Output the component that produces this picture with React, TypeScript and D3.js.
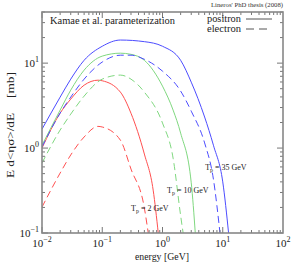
import React, { useEffect, useRef } from "react";
import * as d3 from "d3";

// values (energy in GeV, E d<ησ>/dE in mb)
const eBluePos = [0.01, 0.02, 0.03, 0.05, 0.1, 0.2, 0.5, 1, 2, 3, 5, 7, 10, 12.5];
const vBluePos = [1.67, 3.98, 6.48, 10.8, 15.8, 18.7, 17.9, 15.8, 10.8, 5.97, 2.32, 1.08, 0.4, 0.1];

const eBlueEle = [0.01, 0.02, 0.03, 0.05, 0.1, 0.2, 0.3, 0.5, 1, 2, 3, 5, 7, 9];
const vBlueEle = [1.03, 2.58, 3.98, 6.48, 10.3, 12.4, 12.4, 11.1, 8.05, 4.69, 2.72, 1.15, 0.43, 0.1];

const eGreenPos = [0.01, 0.02, 0.03, 0.05, 0.1, 0.2, 0.3, 0.5, 1, 1.5, 2, 3, 3.5];
const vGreenPos = [1.08, 2.8, 4.81, 8.27, 12.1, 13.1, 12.7, 10.8, 5.36, 2.8, 1.5, 0.39, 0.1];

const eGreenEle = [0.01, 0.02, 0.03, 0.05, 0.1, 0.2, 0.3, 0.5, 1, 1.5, 2, 2.2];
const vGreenEle = [0.667, 1.63, 2.51, 4.09, 6.48, 7.23, 6.48, 4.56, 1.97, 0.76, 0.16, 0.1];

const eRedPos = [0.01, 0.02, 0.03, 0.05, 0.085, 0.1, 0.2, 0.3, 0.5, 0.7, 0.85];
const vRedPos = [1.0, 2.58, 3.77, 5.5, 6.3, 6.2, 4.56, 2.57, 0.85, 0.32, 0.1];

const eRedEle = [0.01, 0.02, 0.03, 0.05, 0.085, 0.1, 0.2, 0.3, 0.5, 0.58];
const vRedEle = [0.202, 0.508, 0.83, 1.35, 1.8, 1.77, 1.24, 0.566, 0.197, 0.1];

const xTickExps = [-2, -1, 0, 1, 2];
const yTickExps = [-1, 0, 1];

const annotations = [
  { label: "35 GeV", e: 5.1, v: 0.55 },
  { label: "10 GeV", e: 1.19, v: 0.295 },
  { label: "2 GeV", e: 0.3, v: 0.18 },
];

const FONT = "'Liberation Serif', 'DejaVu Serif', serif";

export default function App() {
  const ref = useRef<SVGSVGElement>(null);

  useEffect(() => {
    const svg = d3.select(ref.current);
    svg.selectAll("*").remove();

    const width = 299, height = 262;
    const margin = { top: 12, right: 16, bottom: 29, left: 42 };
    const innerW = width - margin.left - margin.right;
    const innerH = height - margin.top - margin.bottom;

    const x = d3.scaleLog().domain([0.01, 100]).range([0, innerW]);
    const y = d3.scaleLog().domain([0.1, 40]).range([innerH, 0]);

    const g = svg.append("g").attr("transform", `translate(${margin.left},${margin.top})`);

    g.append("clipPath").attr("id", "plotclip")
      .append("rect").attr("width", innerW).attr("height", innerH);

    const line = d3.line<[number, number]>()
      .x(d => x(d[0]))
      .y(d => y(d[1]))
      .curve(d3.curveMonotoneX);

    const series = [
      { e: eRedEle, v: vRedEle, color: "#ff5050", dash: true },
      { e: eRedPos, v: vRedPos, color: "#ff5050", dash: false },
      { e: eGreenEle, v: vGreenEle, color: "#7fd87f", dash: true },
      { e: eGreenPos, v: vGreenPos, color: "#7fd87f", dash: false },
      { e: eBlueEle, v: vBlueEle, color: "#4c4cff", dash: true },
      { e: eBluePos, v: vBluePos, color: "#4c4cff", dash: false },
    ];

    const curves = g.append("g").attr("clip-path", "url(#plotclip)");
    series.forEach(s => {
      const pts = s.e.map((e, i) => [e, s.v[i]] as [number, number]);
      curves.append("path")
        .attr("d", line(pts))
        .attr("fill", "none")
        .attr("stroke", s.color)
        .attr("stroke-width", 1)
        .attr("stroke-dasharray", s.dash ? "7,4" : null);
    });

    // ticks (inside, mirrored)
    const ticks = g.append("g").attr("stroke", "#777").attr("stroke-width", 1);
    for (let p = -2; p < 2; p++) {
      for (let m = 1; m < 10; m++) {
        const xv = x(m * Math.pow(10, p));
        const len = m === 1 ? 6 : 3;
        ticks.append("line").attr("x1", xv).attr("x2", xv).attr("y1", innerH).attr("y2", innerH - len);
        ticks.append("line").attr("x1", xv).attr("x2", xv).attr("y1", 0).attr("y2", len);
      }
    }
    for (let p = -1; p < 2; p++) {
      for (let m = 1; m < 10; m++) {
        const val = m * Math.pow(10, p);
        if (val > 40) break;
        const yv = y(val);
        const len = m === 1 ? 6 : 3;
        ticks.append("line").attr("y1", yv).attr("y2", yv).attr("x1", 0).attr("x2", len);
        ticks.append("line").attr("y1", yv).attr("y2", yv).attr("x1", innerW).attr("x2", innerW - len);
      }
    }

    g.append("rect")
      .attr("width", innerW)
      .attr("height", innerH)
      .attr("fill", "none")
      .attr("stroke", "#888")
      .attr("stroke-width", 1.6);

    // tick labels
    xTickExps.forEach(p => {
      const t = g.append("text")
        .attr("x", x(Math.pow(10, p)))
        .attr("y", innerH + 14)
        .attr("text-anchor", "middle")
        .attr("font-family", FONT)
        .attr("font-size", 11)
        .attr("fill", "#222");
      t.append("tspan").text("10");
      t.append("tspan").attr("dy", -5).attr("font-size", 8).text(String(p).replace("-", "\u2212"));
    });
    yTickExps.forEach(p => {
      const t = g.append("text")
        .attr("x", -3)
        .attr("y", y(Math.pow(10, p)) + 4)
        .attr("text-anchor", "end")
        .attr("font-family", FONT)
        .attr("font-size", 11)
        .attr("fill", "#222");
      t.append("tspan").text("10");
      t.append("tspan").attr("dy", -5).attr("font-size", 8).text(String(p).replace("-", "\u2212"));
    });

    // text helper with fixed width so it lines up with the reference
    const label = (parent, txt, xx, yy, size, len, transform?) => {
      const t = parent.append("text")
        .attr("font-family", FONT)
        .attr("font-size", size)
        .attr("fill", "#222")
        .attr("textLength", len)
        .attr("lengthAdjust", "spacingAndGlyphs")
        .text(txt);
      if (transform) t.attr("transform", transform);
      else t.attr("x", xx).attr("y", yy);
      return t;
    };

    // axis titles
    label(svg, "energy [GeV]", 135, 260, 11, 54);
    label(svg, "E d<ησ>/dE", 0, 0, 10.5, 65, "translate(14,178) rotate(-90)");
    label(svg, "[mb]", 0, 0, 10.5, 26, "translate(14,98) rotate(-90)");

    // title and credit
    label(svg, "Kamae et al. parameterization", 50, 24, 11, 125);
    label(svg, "Lineros' PhD thesis (2008)", 211, 7, 6.5, 72).attr("fill", "#333");

    // legend
    const legend = [
      { label: "positron", dash: false },
      { label: "electron", dash: true },
    ];
    legend.forEach((l, i) => {
      const ly = 19 + i * 10;
      label(svg, l.label, 207, ly + 3, 10.5, 34);
      svg.append("line")
        .attr("x1", 246).attr("x2", 272)
        .attr("y1", ly).attr("y2", ly)
        .attr("stroke", "#555")
        .attr("stroke-width", 1)
        .attr("stroke-dasharray", l.dash ? "8,5" : null);
    });

    // T_p annotations
    annotations.forEach(a => {
      const t = g.append("text")
        .attr("x", x(a.e))
        .attr("y", y(a.v))
        .attr("font-family", FONT)
        .attr("font-size", 8)
        .attr("fill", "#222");
      t.append("tspan").text("T");
      t.append("tspan").attr("dy", 2).attr("font-size", 6).text("p");
      t.append("tspan").attr("dy", -2).text(" = " + a.label);
    });
  }, []);

  return (
    <svg
      ref={ref}
      width={299}
      height={262}
      style={{ position: "absolute", left: 0, top: 0, background: "#fff" }}
    />
  );
}
